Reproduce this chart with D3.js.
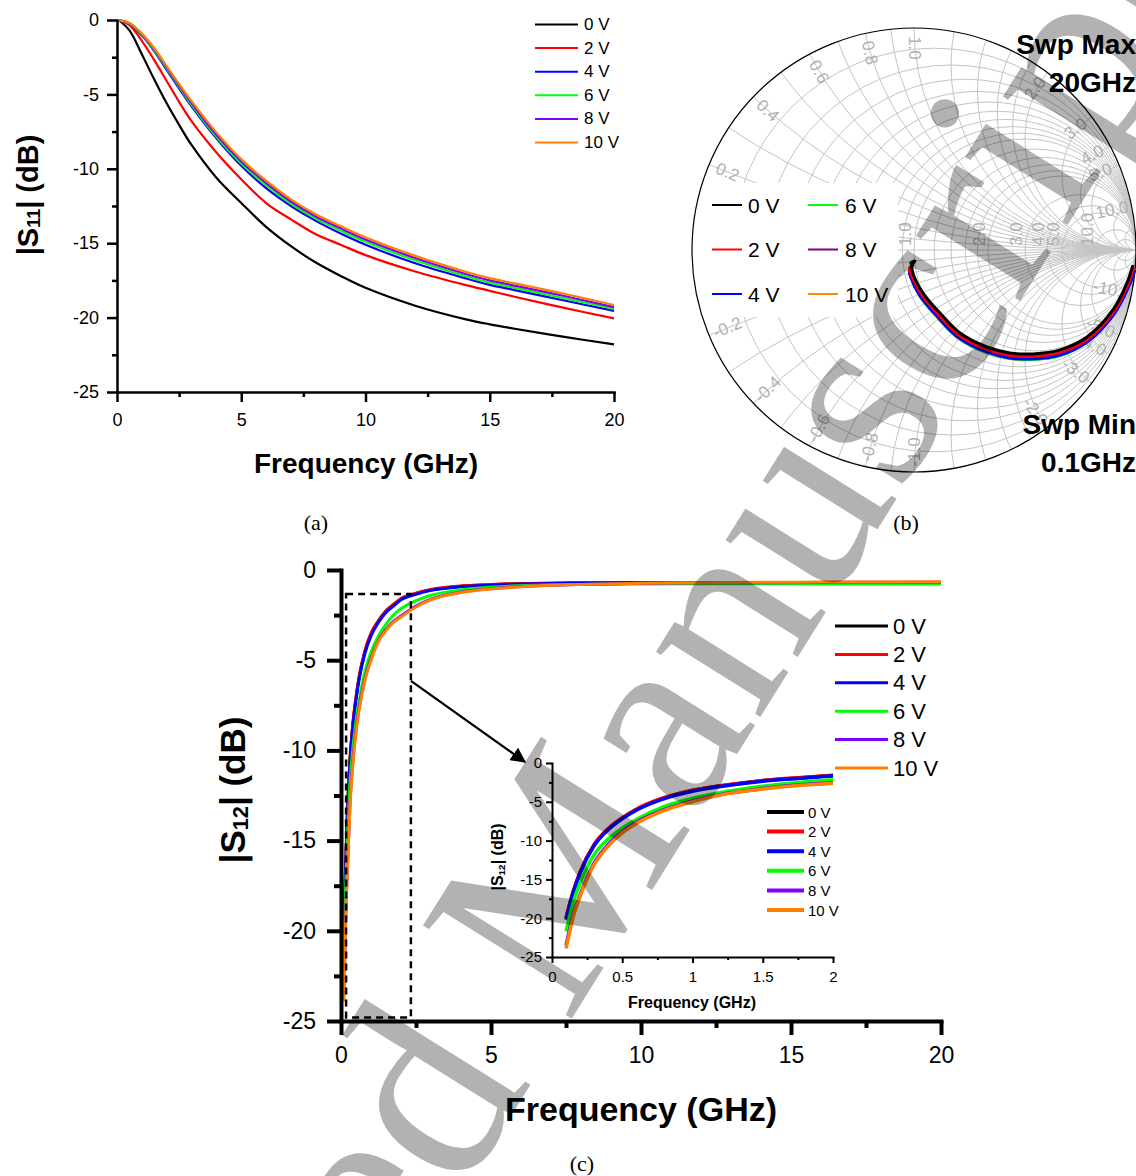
<!DOCTYPE html>
<html>
<head>
<meta charset="utf-8">
<title>S-parameters vs bias voltage</title>
<script src="https://d3js.org/d3.v7.min.js"></script>
<style>
  body { margin: 0; background: #fff; }
  svg { display: block; font-family: Arial, "Liberation Sans", sans-serif; }
</style>
</head>
<body>
<div id="vis"></div>
<script>
const width = 1136
const height = 1176

const biases = ["0 V", "2 V", "4 V", "6 V", "8 V", "10 V"]
const colors = ["#000000", "#ff0000", "#0000ff", "#00ff00", "#8000ff", "#ff8000"]
const smithColors = ["#000000", "#ff0000", "#0000ff", "#00ff00", "#800080", "#ff8c00"]

// (a) |S11| in dB
const s11Freq = [0.1, 0.5, 1, 1.5, 2, 2.5, 3, 4, 5, 6, 7, 8, 9, 10, 12, 14, 15, 16, 18, 20]
const s11_0V = [-0.05, -0.7, -2.3, -4.0, -5.6, -7.05, -8.4, -10.6, -12.3, -13.9, -15.2, -16.3, -17.2, -18.0, -19.2, -20.1, -20.45, -20.75, -21.3, -21.8]
const s11_2V = [-0.03, -0.35, -1.4, -2.7, -4.1, -5.5, -6.8, -8.9, -10.7, -12.3, -13.4, -14.4, -15.1, -15.8, -16.9, -17.8, -18.2, -18.6, -19.35, -20.05]
const s11_4V = [-0.02, -0.25, -1.05, -2.1, -3.35, -4.6, -5.8, -7.95, -9.8, -11.3, -12.5, -13.5, -14.35, -15.1, -16.35, -17.35, -17.8, -18.15, -18.85, -19.55]
const s11_6V = [-0.02, -0.24, -1.0, -2.05, -3.25, -4.5, -5.7, -7.85, -9.65, -11.1, -12.35, -13.35, -14.15, -14.9, -16.15, -17.2, -17.65, -18.0, -18.7, -19.4]
const s11_8V = [-0.02, -0.22, -0.95, -1.97, -3.17, -4.4, -5.58, -7.72, -9.5, -10.95, -12.2, -13.2, -14.0, -14.75, -16.0, -17.05, -17.5, -17.85, -18.55, -19.3]
const s11_10V = [-0.02, -0.2, -0.9, -1.9, -3.1, -4.3, -5.45, -7.55, -9.35, -10.8, -12.05, -13.05, -13.85, -14.6, -15.85, -16.9, -17.35, -17.7, -18.4, -19.15]

// (b) S11 on the Smith chart, [re, im] of the reflection coefficient, 0.1 GHz -> 20 GHz
const smith_0V = [[0.986, -0.068], [0.959, -0.149], [0.896, -0.270], [0.779, -0.392], [0.658, -0.450], [0.536, -0.468], [0.432, -0.464], [0.329, -0.437], [0.207, -0.374], [0.117, -0.284], [0.041, -0.194], [-0.005, -0.104], [-0.009, -0.068], [0.004, -0.050], [-0.014, -0.058], [-0.002, -0.074]]
const smith_2V = [[0.990, -0.080], [0.962, -0.160], [0.897, -0.282], [0.780, -0.403], [0.658, -0.461], [0.536, -0.479], [0.432, -0.475], [0.327, -0.448], [0.203, -0.384], [0.111, -0.292], [0.034, -0.200], [-0.012, -0.112], [-0.020, -0.082], [-0.008, -0.070], [-0.018, -0.095]]
const smith_4V = [[0.995, -0.090], [0.965, -0.170], [0.899, -0.292], [0.781, -0.414], [0.658, -0.473], [0.536, -0.490], [0.432, -0.486], [0.325, -0.458], [0.199, -0.393], [0.106, -0.300], [0.028, -0.207], [-0.016, -0.118], [-0.022, -0.090]]
const smith_6V = [[0.994, -0.088], [0.964, -0.168], [0.898, -0.290], [0.781, -0.412], [0.658, -0.476], [0.536, -0.493], [0.432, -0.488], [0.324, -0.460], [0.198, -0.395], [0.105, -0.302], [0.027, -0.208], [-0.015, -0.120], [-0.020, -0.094]]
const smith_8V = [[0.993, -0.086], [0.964, -0.166], [0.898, -0.288], [0.781, -0.410], [0.658, -0.474], [0.536, -0.491], [0.432, -0.487], [0.324, -0.459], [0.198, -0.394], [0.105, -0.301], [0.027, -0.207], [-0.015, -0.118], [-0.021, -0.092]]
const smith_10V = [[0.993, -0.087], [0.964, -0.167], [0.898, -0.289], [0.781, -0.411], [0.658, -0.475], [0.536, -0.492], [0.432, -0.488], [0.324, -0.460], [0.198, -0.395], [0.105, -0.302], [0.027, -0.208], [-0.015, -0.119], [-0.021, -0.093]]

const smithR = [0.1, 0.2, 0.3, 0.4, 0.5, 0.6, 0.7, 0.8, 0.9, 1, 1.2, 1.4, 1.6, 1.8, 2, 3, 4, 5, 10, 20]
const smithX = [0.1, 0.2, 0.3, 0.4, 0.5, 0.6, 0.7, 0.8, 0.9, 1, 1.2, 1.4, 1.6, 1.8, 2, 3, 4, 5, 10, 20]
const smithXLabels = [0.2, 0.4, 0.6, 0.8, 1, 2, 3, 4, 5, 10]
const smithRLabels = [1, 2, 3, 4, 5, 10]

// (c) |S12| in dB
const s12Freq = [0.1, 0.15, 0.2, 0.3, 0.4, 0.5, 0.6, 0.8, 1.0, 1.25, 1.5, 1.75, 2.0, 2.5, 3, 4, 5, 6, 8, 10, 12, 14, 16, 18, 20]
const s12_0V = [-20.0, -16.65, -14.1, -10.55, -8.5, -7.1, -6.0, -4.5, -3.55, -2.82, -2.28, -1.93, -1.6, -1.3, -1.1, -0.9, -0.82, -0.76, -0.72, -0.7, -0.7, -0.7, -0.7, -0.71, -0.72]
const s12_2V = [-20.0, -16.6, -14.05, -10.5, -8.45, -7.05, -5.95, -4.45, -3.5, -2.8, -2.26, -1.9, -1.58, -1.28, -1.08, -0.89, -0.81, -0.75, -0.71, -0.69, -0.69, -0.69, -0.69, -0.7, -0.71]
const s12_4V = [-20.2, -16.75, -14.2, -10.65, -8.6, -7.2, -6.1, -4.6, -3.65, -2.9, -2.35, -2.0, -1.65, -1.35, -1.13, -0.93, -0.84, -0.78, -0.73, -0.71, -0.7, -0.7, -0.7, -0.71, -0.72]
const s12_6V = [-21.7, -18.0, -15.5, -11.8, -9.8, -8.4, -7.3, -5.6, -4.55, -3.65, -3.0, -2.5, -2.15, -1.7, -1.4, -1.1, -0.95, -0.87, -0.8, -0.77, -0.76, -0.76, -0.77, -0.77, -0.78]
const s12_8V = [-23.5, -19.6, -17.0, -12.9, -10.5, -8.85, -7.65, -6.0, -4.9, -3.9, -3.3, -2.85, -2.55, -2.0, -1.62, -1.22, -1.03, -0.92, -0.8, -0.74, -0.71, -0.7, -0.69, -0.68, -0.68]
const s12_10V = [-23.9, -19.9, -17.2, -13.1, -10.7, -9.0, -7.8, -6.1, -5.0, -3.95, -3.35, -2.9, -2.6, -2.05, -1.65, -1.25, -1.05, -0.93, -0.8, -0.73, -0.7, -0.68, -0.67, -0.66, -0.65]

const s11Series = [s11_0V, s11_2V, s11_4V, s11_6V, s11_8V, s11_10V]
const smithSeries = [smith_0V, smith_2V, smith_4V, smith_6V, smith_8V, smith_10V]
const s12Series = [s12_0V, s12_2V, s12_4V, s12_6V, s12_8V, s12_10V]

const majorDb = [0, -5, -10, -15, -20, -25]
const minorDb = [-2.5, -7.5, -12.5, -17.5, -22.5]
const majorGHz = [0, 5, 10, 15, 20]
const minorGHz = [2.5, 7.5, 12.5, 17.5]
const insetMajorGHz = [0, 0.5, 1, 1.5, 2]
const insetMinorGHz = [0.25, 0.75, 1.25, 1.75]

let svg = d3.select("#vis")
  .append("svg")
  .attr("width", width)
  .attr("height", height)

function drawAxes(g, x, y, o) {
  let y0 = y(y.domain()[0])
  let x0 = x(x.domain()[0])

  let minorX = g.append("g").attr("transform", `translate(0,${y0})`)
    .call(d3.axisBottom(x).tickValues(o.xMinor).tickSize(o.minor).tickSizeOuter(0).tickFormat(""))
  let minorY = g.append("g").attr("transform", `translate(${x0},0)`)
    .call(d3.axisLeft(y).tickValues(minorDb).tickSize(o.minor).tickSizeOuter(0).tickFormat(""))
  minorX.select(".domain").remove()
  minorY.select(".domain").remove()

  g.append("g").attr("transform", `translate(0,${y0})`)
    .call(d3.axisBottom(x).tickValues(o.xMajor).tickSize(o.major).tickSizeOuter(0)
      .tickPadding(o.xPad).tickFormat(d => String(d)))
  g.append("g").attr("transform", `translate(${x0},0)`)
    .call(d3.axisLeft(y).tickValues(majorDb).tickSize(o.major).tickSizeOuter(0)
      .tickPadding(o.yPad).tickFormat(d => String(d)))

  g.selectAll("line").attr("stroke", "#000").attr("stroke-width", o.sw)
  g.selectAll(".domain").attr("stroke", "#000").attr("stroke-width", o.sw).attr("stroke-linecap", "square")
  g.selectAll("text").attr("font-size", o.font).attr("fill", "#000")
    .attr("font-family", "Arial, 'Liberation Sans', sans-serif")
}

function yTitle(g, cx, cy, size, sub) {
  let t = g.append("text")
    .attr("transform", `translate(${cx},${cy}) rotate(-90)`)
    .attr("text-anchor", "middle")
    .attr("dominant-baseline", "central")
    .attr("font-size", size)
    .attr("font-weight", "bold")
  t.append("tspan").text("|S")
  t.append("tspan").attr("font-size", size * 0.62).attr("dy", size * 0.22).text(sub)
  t.append("tspan").attr("dy", -size * 0.22).text("| (dB)")
}

function xTitle(g, cx, cy, size) {
  g.append("text")
    .attr("x", cx).attr("y", cy)
    .attr("text-anchor", "middle")
    .attr("font-size", size)
    .attr("font-weight", "bold")
    .text("Frequency (GHz)")
}

function legend(g, x1, x2, tx, y0, dy, size, sw, cols) {
  biases.forEach((b, i) => {
    let yy = y0 + i * dy
    g.append("line").attr("x1", x1).attr("x2", x2).attr("y1", yy).attr("y2", yy)
      .attr("stroke", cols[i]).attr("stroke-width", sw)
    g.append("text").attr("x", tx).attr("y", yy)
      .attr("dominant-baseline", "central").attr("font-size", size).text(b)
  })
}

// ---------- (a) |S11| ----------
const xa = d3.scaleLinear().domain([0, 20]).range([117, 614])
const ya = d3.scaleLinear().domain([-25, 0]).range([392, 20])
let ga = svg.append("g")

let lineA = d3.line().x(d => xa(d[0])).y(d => ya(d[1])).curve(d3.curveCatmullRom.alpha(0.5))
s11Series.forEach((s, i) => {
  ga.append("path")
    .datum(s11Freq.map((f, k) => [f, s[k]]))
    .attr("fill", "none")
    .attr("stroke", colors[i])
    .attr("stroke-width", 2.2)
    .attr("d", lineA)
})
drawAxes(ga.append("g"), xa, ya, {xMajor: majorGHz, xMinor: minorGHz, major: 10, minor: 5, xPad: 11, yPad: 8, sw: 2.5, font: 18})
yTitle(ga, 28, 195, 29, "11")
xTitle(ga, 366, 473, 28)
legend(ga, 535, 578, 584, 24.5, 23.6, 17, 2, colors)

// ---------- (b) Smith chart ----------
const sc = {cx: 914, cy: 250, R: 222}
const gx = d3.scaleLinear().domain([-1, 1]).range([sc.cx - sc.R, sc.cx + sc.R])
const gy = d3.scaleLinear().domain([-1, 1]).range([sc.cy + sc.R, sc.cy - sc.R])
let gb = svg.append("g")

svg.append("defs").append("clipPath").attr("id", "smithClip")
  .append("circle").attr("cx", sc.cx).attr("cy", sc.cy).attr("r", sc.R)

let grid = gb.append("g").attr("clip-path", "url(#smithClip)")
  .attr("fill", "none").attr("stroke", "#c4c4c4").attr("stroke-width", 1)
smithR.forEach(r => {
  grid.append("circle").attr("cx", gx(r / (1 + r))).attr("cy", gy(0)).attr("r", sc.R / (1 + r))
})
smithX.forEach(x => {
  [x, -x].forEach(v => {
    grid.append("circle").attr("cx", gx(1)).attr("cy", gy(1 / v)).attr("r", sc.R / Math.abs(v))
  })
})
grid.append("line").attr("x1", gx(-1)).attr("x2", gx(1)).attr("y1", gy(0)).attr("y2", gy(0))

let labs = gb.append("g").attr("fill", "#b0b0b0").attr("font-size", 17)
smithXLabels.forEach(x => {
  [x, -x].forEach(v => {
    let re = (v * v - 1) / (v * v + 1), im = 2 * v / (v * v + 1)
    let phi = Math.atan2(im, re) * 180 / Math.PI
    let rot = Math.cos(phi * Math.PI / 180) < 0.05 ? 180 - phi : -phi
    labs.append("text")
      .attr("transform", `translate(${gx(re * 0.91)},${gy(im * 0.91)}) rotate(${rot})`)
      .attr("text-anchor", "middle").attr("dominant-baseline", "central")
      .text(v.toFixed(1))
  })
})
smithRLabels.forEach(r => {
  labs.append("text")
    .attr("transform", `translate(${gx((r - 1) / (r + 1)) - 3},${gy(0) - 4}) rotate(-90)`)
    .attr("text-anchor", "start")
    .text(r.toFixed(1))
})

// legend box over the grid
let lb = gb.append("g")
lb.append("rect").attr("x", 693).attr("y", 183).attr("width", 205).attr("height", 134).attr("fill", "#fff")
biases.forEach((b, i) => {
  let col = i < 3 ? 0 : 1
  let yy = 205 + (i % 3) * 44.5
  let x1 = col ? 808 : 712
  lb.append("line").attr("x1", x1).attr("x2", x1 + 30).attr("y1", yy).attr("y2", yy)
    .attr("stroke", smithColors[i]).attr("stroke-width", 2)
  lb.append("text").attr("x", x1 + (col ? 37 : 36)).attr("y", yy)
    .attr("dominant-baseline", "central").attr("font-size", 21).text(b)
})

gb.append("circle").attr("cx", sc.cx).attr("cy", sc.cy).attr("r", sc.R)
  .attr("fill", "none").attr("stroke", "#000").attr("stroke-width", 1.2)

let lineB = d3.line().x(d => gx(d[0])).y(d => gy(d[1])).curve(d3.curveCatmullRom)
for (let i = smithSeries.length - 1; i >= 0; i--) {
  gb.append("path")
    .datum(smithSeries[i])
    .attr("fill", "none")
    .attr("stroke", smithColors[i])
    .attr("stroke-width", 3)
    .attr("d", lineB)
}

let swp = gb.append("g").attr("font-size", 28).attr("font-weight", "bold").attr("text-anchor", "end")
swp.append("text").attr("x", 1136).attr("y", 54).text("Swp Max")
swp.append("text").attr("x", 1136).attr("y", 92).text("20GHz")
swp.append("text").attr("x", 1136).attr("y", 434).text("Swp Min")
swp.append("text").attr("x", 1136).attr("y", 472).text("0.1GHz")

// ---------- (c) |S12| ----------
const xc = d3.scaleLinear().domain([0, 20]).range([341, 941])
const yc = d3.scaleLinear().domain([-25, 0]).range([1021, 570])
let gc = svg.append("g")

let lineC = d3.line().x(d => xc(d[0])).y(d => yc(d[1])).curve(d3.curveMonotoneX)
s12Series.forEach((s, i) => {
  gc.append("path")
    .datum(s12Freq.map((f, k) => [f, s[k]]))
    .attr("fill", "none")
    .attr("stroke", colors[i])
    .attr("stroke-width", 3)
    .attr("d", lineC)
})
drawAxes(gc.append("g"), xc, yc, {xMajor: majorGHz, xMinor: minorGHz, major: 14, minor: 7, xPad: 12, yPad: 11, sw: 4, font: 23})
yTitle(gc, 232, 790, 35, "12")
xTitle(gc, 641, 1121, 34)
legend(gc, 835, 888, 893, 626, 28.4, 22, 3, colors)

// zoom box and arrow
gc.append("rect")
  .attr("x", xc(0.17)).attr("y", yc(-1.33))
  .attr("width", xc(2.33) - xc(0.17)).attr("height", yc(-24.8) - yc(-1.33))
  .attr("fill", "none").attr("stroke", "#000").attr("stroke-width", 2.5)
  .attr("stroke-dasharray", "7,5")

svg.select("defs").append("marker")
  .attr("id", "arrow").attr("viewBox", "0 0 10 10").attr("refX", 9).attr("refY", 5)
  .attr("markerWidth", 7).attr("markerHeight", 7).attr("markerUnits", "strokeWidth")
  .attr("orient", "auto")
  .append("path").attr("d", "M0,0 L10,5 L0,10 Z").attr("fill", "#000")
gc.append("line")
  .attr("x1", xc(2.33)).attr("y1", yc(-6.15))
  .attr("x2", xc(6.13)).attr("y2", yc(-10.64))
  .attr("stroke", "#000").attr("stroke-width", 2.2)
  .attr("marker-end", "url(#arrow)")

// ---------- inset ----------
const xi = d3.scaleLinear().domain([0, 2]).range([552, 833])
const yi = d3.scaleLinear().domain([-25, 0]).range([957, 763])
let gi = svg.append("g")
let lineI = d3.line().x(d => xi(d[0])).y(d => yi(d[1])).curve(d3.curveMonotoneX)
s12Series.forEach((s, i) => {
  gi.append("path")
    .datum(s12Freq.map((f, k) => [f, s[k]]).filter(d => d[0] <= 2))
    .attr("fill", "none")
    .attr("stroke", colors[i])
    .attr("stroke-width", 3.5)
    .attr("d", lineI)
})
drawAxes(gi.append("g"), xi, yi, {xMajor: insetMajorGHz, xMinor: insetMinorGHz, major: 6, minor: 3, xPad: 8, yPad: 4, sw: 2, font: 15})
yTitle(gi, 497, 857, 16, "12")
xTitle(gi, 692, 1008, 16)
legend(gi, 767, 804, 808, 812, 19.6, 15, 4, colors)

// ---------- captions ----------
let cap = svg.append("g").attr("font-family", "'Liberation Serif', 'Times New Roman', serif")
  .attr("font-size", 22).attr("text-anchor", "middle").attr("dominant-baseline", "central")
cap.append("text").attr("x", 316).attr("y", 522).text("(a)")
cap.append("text").attr("x", 906).attr("y", 522).text("(b)")
cap.append("text").attr("x", 582).attr("y", 1163).text("(c)")

// ---------- watermark ----------
svg.append("text")
  .attr("transform", "translate(-4,1940) rotate(-58)")
  .attr("font-family", "'Liberation Serif', 'Times New Roman', serif")
  .attr("font-size", 268)
  .attr("fill", "#000")
  .attr("fill-opacity", 0.3)
  .text("Accepted Manuscript")
</script>
</body>
</html>
